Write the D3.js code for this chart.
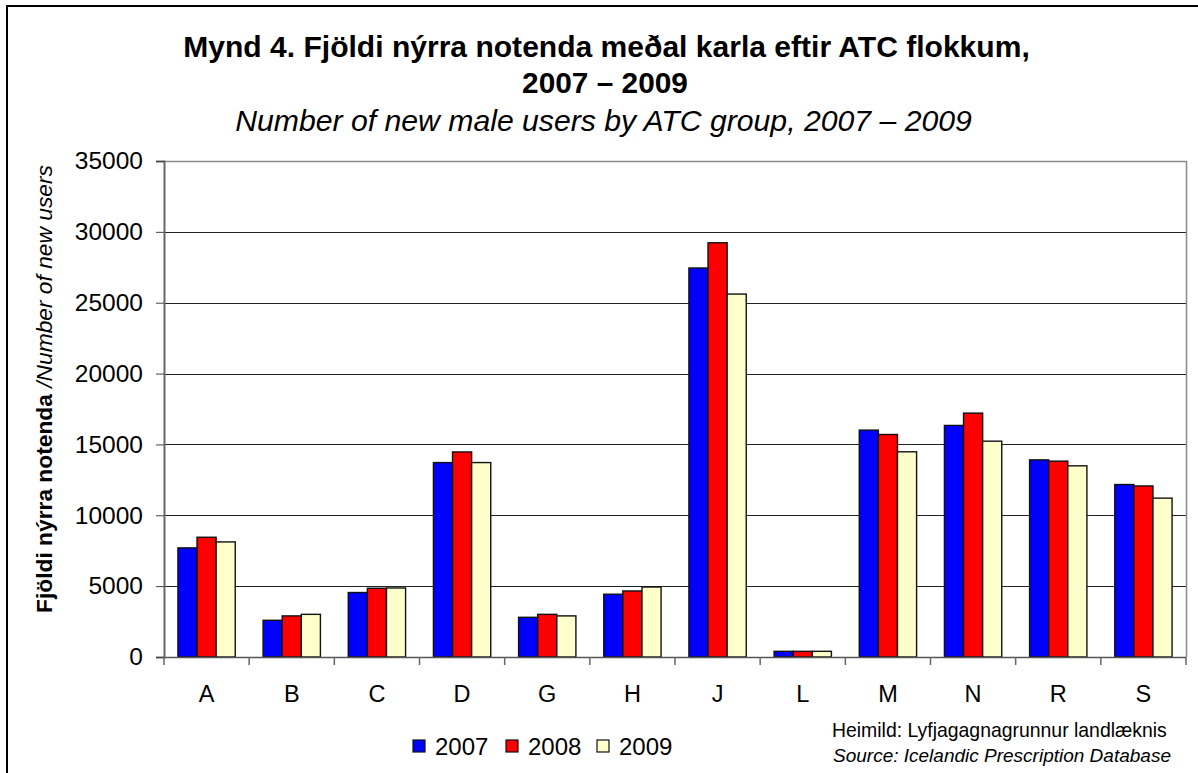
<!DOCTYPE html>
<html><head><meta charset="utf-8">
<script src="https://cdn.jsdelivr.net/npm/d3@7"></script>
<style>body{margin:0;background:#fff}svg{display:block}text{font-family:"Liberation Sans",Arial,sans-serif}</style>
</head><body><svg id="c" width="1198" height="773"></svg>
<script>
const categories = ["A","B","C","D","G","H","J","L","M","N","R","S"];
const series = ["2007","2008","2009"];
const v2007 = [7700,2590,4550,13720,2800,4430,27450,400,16010,16340,13910,12170];
const v2008 = [8450,2900,4850,14470,3010,4660,29230,400,15700,17210,13820,12070];
const v2009 = [8120,3010,4870,13720,2900,4940,25610,400,14480,15230,13490,11210];
const yTicks = [0,5000,10000,15000,20000,25000,30000,35000];
const colors = ["#0000FF","#FF0000","#FFFFCC"];
const values = [v2007, v2008, v2009];

const svg = d3.select("#c");
const L = 164, R = 1186, T = 161, B = 657;

function fit(sel, target){
  const n = sel.node(); const fs = parseFloat(sel.style("font-size"));
  const w = n.getComputedTextLength(); sel.style("font-size", (fs*target/w)+"px");
}

// outer border
svg.append("rect").attr("x",7).attr("y",6).attr("width",1210).attr("height",800)
  .attr("fill","none").attr("stroke","#000").attr("stroke-width",2);

const x0 = d3.scaleBand().domain(categories).range([L,R]).paddingInner(0.327).paddingOuter(0.1635);
const x1 = d3.scaleBand().domain(series).range([0,x0.bandwidth()]);
const y = d3.scaleLinear().domain([0,35000]).range([B,T]);
const step = x0.step();

// gridlines
svg.append("g").selectAll("line").data(yTicks.filter(d=>d>0 && d<35000)).join("line")
  .attr("x1",L).attr("x2",R).attr("y1",d=>Math.round(y(d))+0.5).attr("y2",d=>Math.round(y(d))+0.5)
  .attr("stroke","#222").attr("stroke-width",1);
// plot border top/right
svg.append("path").attr("d",`M${L},${T+0.5}H${R+0.5}V${B}`).attr("fill","none").attr("stroke","#8a8a8a").attr("stroke-width",1.5);

// bars
const g = svg.append("g");
categories.forEach((c,i)=>{
  series.forEach((s,j)=>{
    g.append("rect").attr("x",x0(c)+x1(s)).attr("y",y(values[j][i]))
      .attr("width",x1.bandwidth()).attr("height",B-y(values[j][i]))
      .attr("fill",colors[j]).attr("stroke","#111").attr("stroke-width",1.4);
  });
});

// y axis
const ya = svg.append("g").attr("transform",`translate(${L},0)`)
  .call(d3.axisLeft(y).tickValues(yTicks).tickSize(8).tickPadding(13).tickFormat(d3.format("d")));
ya.select(".domain").attr("stroke","#666").attr("stroke-width",2);
ya.selectAll(".tick line").attr("stroke","#444");
ya.selectAll("text").style("font-size","24.5px").attr("fill","#000").attr("font-family","Liberation Sans");

// x axis line and ticks at boundaries
svg.append("line").attr("x1",L).attr("x2",R).attr("y1",B+0.5).attr("y2",B+0.5).attr("stroke","#555").attr("stroke-width",1.5);
const bounds = d3.range(categories.length+1).map(k=>L+k*step);
svg.append("g").selectAll("line").data(bounds).join("line")
  .attr("x1",d=>d).attr("x2",d=>d).attr("y1",B).attr("y2",B+8).attr("stroke","#666").attr("stroke-width",1.5);
svg.append("g").selectAll("text").data(categories).join("text")
  .attr("x",d=>x0(d)+x0.bandwidth()/2).attr("y",701.5).attr("text-anchor","middle")
  .style("font-size","23.5px").text(d=>d);

// titles
const t1 = svg.append("text").attr("x",606.5).attr("y",57).attr("text-anchor","middle")
  .style("font-size","28px").style("font-weight","bold").text("Mynd 4. Fjöldi nýrra notenda meðal karla eftir ATC flokkum,");
fit(t1,847);
const t2 = svg.append("text").attr("x",605).attr("y",93).attr("text-anchor","middle")
  .style("font-size","28px").style("font-weight","bold").text("2007 – 2009");
fit(t2,166);
const t3 = svg.append("text").attr("x",603.5).attr("y",131).attr("text-anchor","middle")
  .style("font-size","27px").style("font-style","italic").text("Number of new male users by ATC group, 2007 – 2009");
fit(t3,737);

// y axis label
const yl = svg.append("text").attr("transform","translate(52,389) rotate(-90)").attr("text-anchor","middle")
  .style("font-size","24px");
yl.append("tspan").style("font-weight","bold").text("Fjöldi nýrra notenda ");
yl.append("tspan").style("font-style","italic").text("/Number of new users");
fit(yl,448);

// legend
const lx = [413,506,597];
const lg = svg.append("g");
series.forEach((s,j)=>{
  lg.append("rect").attr("x",lx[j]).attr("y",740).attr("width",12).attr("height",12)
    .attr("fill",colors[j]).attr("stroke","#111").attr("stroke-width",1.2);
  lg.append("text").attr("x",lx[j]+22).attr("y",755).style("font-size","24px").text(s);
});

// source
const s1 = svg.append("text").attr("x",832).attr("y",737).style("font-size","16.5px").text("Heimild: Lyfjagagnagrunnur landlæknis");
fit(s1,335);
const s2 = svg.append("text").attr("x",833).attr("y",762).style("font-size","16.5px").style("font-style","italic").text("Source: Icelandic Prescription Database");
fit(s2,338);
</script></body></html>
